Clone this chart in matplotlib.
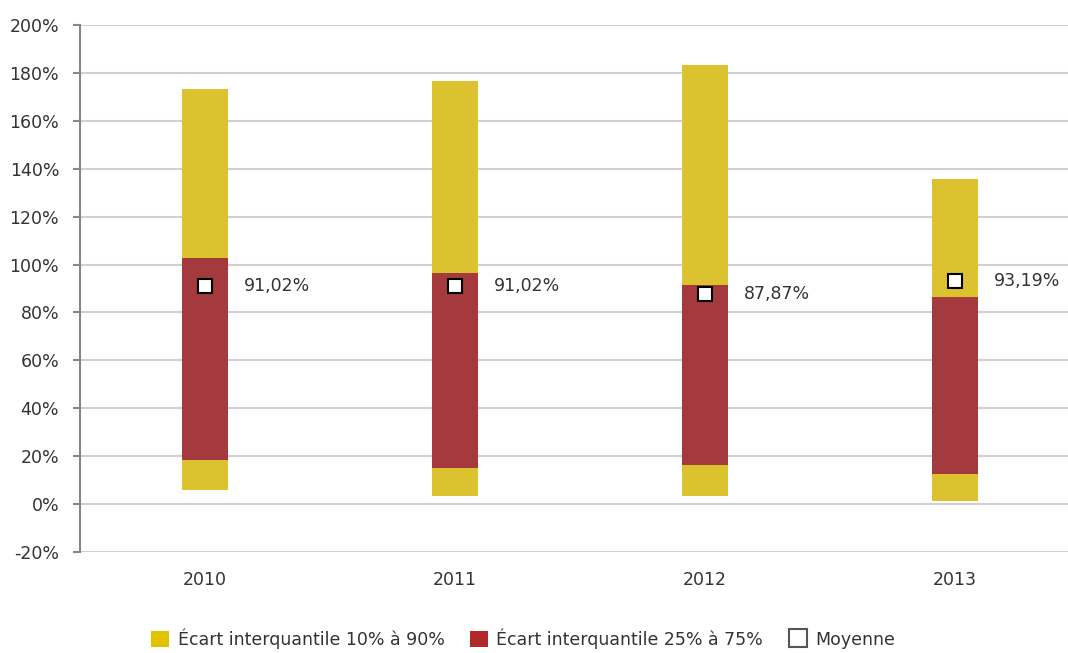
import matplotlib.pyplot as plt
import numpy as np
from matplotlib.patches import Patch
from matplotlib.lines import Line2D

plt.rcParams['font.family'] = ['DejaVu Sans']

years = ['2010', '2011', '2012', '2013']
p10 = [5.8, 3.3, 3.3, 1.2]
p25 = [18.4, 15.0, 16.3, 12.5]
p75 = [102.7, 96.5, 91.4, 86.4]
p90 = [173.3, 176.6, 183.3, 135.7]
moyenne = [91.02, 91.02, 87.87, 93.19]
mean_labels = ['91,02%', '91,02%', '87,87%', '93,19%']

yellow = '#DCC22E'
red = '#A4393E'
txt = '#333333'
fs = 12.5

fig = plt.figure(figsize=(10.68, 6.53), dpi=100)
ax = fig.add_axes([80 / 1068, 1 - 552 / 653, 988 / 1068, 527 / 653])

x = np.arange(len(years))
w = 0.184
ax.bar(x, np.array(p90) - np.array(p10), bottom=p10, width=w, color=yellow, zorder=2)
ax.bar(x, np.array(p75) - np.array(p25), bottom=p25, width=w, color=red, zorder=3)
ax.plot(x, moyenne, ls='none', marker='s', ms=10, mfc='white', mec='black', mew=1.5, zorder=4)
for xi, m, lab in zip(x, moyenne, mean_labels):
    ax.text(xi + 0.156, m, lab, va='center', ha='left', fontsize=fs, color=txt)

ax.set_xlim(-0.5, 3.452)
ax.set_ylim(-20, 200)
ax.set_yticks(np.arange(-20, 201, 20))
ax.set_yticklabels([f'{v}%' for v in range(-20, 201, 20)])
ax.set_xticks(x)
ax.set_xticklabels(years)
ax.yaxis.grid(True, color='#D0D0D0', lw=1.5, zorder=0)
ax.set_axisbelow(True)
for s in ['top', 'right', 'bottom']:
    ax.spines[s].set_visible(False)
ax.spines['left'].set_color('#8C8580')
ax.spines['left'].set_linewidth(1.5)
ax.tick_params(axis='y', length=5, width=1.5, color='#8C8580', labelsize=fs, labelcolor=txt, pad=10)
ax.tick_params(axis='x', length=0, labelsize=fs, labelcolor=txt, pad=14)

handles = [
    Patch(facecolor='#E3C200', label='Écart interquantile 10% à 90%'),
    Patch(facecolor='#B02A2A', label='Écart interquantile 25% à 75%'),
    Line2D([], [], ls='none', marker='s', ms=13, mfc='white', mec='#555555', mew=1.5, label='Moyenne'),
]
fig.legend(handles=handles, loc='lower center', bbox_to_anchor=(0.49, -0.018), ncol=3, frameon=False,
           fontsize=fs, handlelength=1.0, handleheight=1.0, handletextpad=0.5, columnspacing=1.5,
           labelcolor=txt)

fig.savefig('out.png', dpi=100)
